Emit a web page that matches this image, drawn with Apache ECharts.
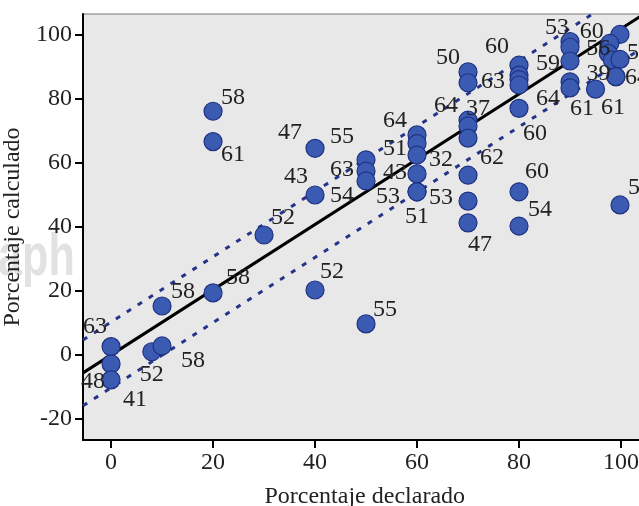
<!DOCTYPE html>
<html><head><meta charset="utf-8">
<script src="https://cdn.jsdelivr.net/npm/echarts@6/dist/echarts.min.js"></script>
<style>html,body{margin:0;padding:0;background:#fff}#c{width:639px;height:506px}</style>
</head><body><div id="c"></div>
<script>
// ---- data ----
const xVals = [0, 0, 0, 8, 10, 10, 20, 20, 20, 30,
  40, 40, 40, 50, 50, 50, 50,
  60, 60, 60, 60, 60, 60,
  70, 70, 70, 70, 70, 70, 70, 70,
  80, 80, 80, 80, 80, 80, 80,
  90, 90, 90, 90, 90, 95,
  99.8, 97.8, 97.5, 98.3, 99.8, 99, 99, 99.8];
const yVals = [2.6, -2.8, -7.8, 1.0, 2.8, 15.3, 19.4, 76.2, 66.7, 37.5,
  64.6, 50, 20.3, 9.7, 61, 57.5, 54.4,
  68.8, 66.1, 62.5, 56.6, 51.0, 51.0,
  88.5, 85.1, 73.4, 71.6, 67.8, 56.2, 48.1, 41.3,
  90.6, 87.5, 86.1, 84.4, 77.1, 51.0, 40.3,
  98.0, 96.2, 91.9, 85.4, 83.5, 83.1,
  100.2, 97.4, 94.3, 92.2, 92.4, 87, 87, 46.9];
const pointLabels = ['63', '48', '41', '52', '58', '58', '58', '58', '61', '52',
  '47', '43', '52', '55', '55', '63', '54',
  '64', '51', '32', '43', '53', '51',
  '50', '63', '64', '37', '', '62', '53', '47',
  '60', '', '', '', '60', '60', '54',
  '53', '', '59', '64', '61', '39',
  '', '60', '56', '', '59', '64', '61', '51'];
const xTicks = [0, 20, 40, 60, 80, 100];
const yTicks = [-20, 0, 20, 40, 60, 80, 100];
const fitIntercept = 0.0, fitSlope = 1.02, bandHalf = 10.3;

// ---- layout (label placement offsets in px) ----
const labelOffsets = [[-16,-20],[-18,18],[24,20],[0,23],[31,15],[21,-14],[25,-15],[20,-14],[20,13],[19,-17],
  [-25,-16],[-19,-18],[17,-18],[19,-14],[-24,-23],[-24,-1],[-24,15],
  [-22,-14],[-22,5],[24,5],[-22,-1],[-29,5],[0,25],
  [-20,-14],[25,-1],[-22,-14],[10,-17],[0,0],[24,-17],[-27,-3],[12,22],
  [-22,-18],[0,0],[0,0],[0,0],[16,25],[18,-20],[21,-16],
  [-13,-14],[0,0],[-22,3],[-22,17],[12,21],[3,-15],
  [0,0],[-18,-12],[-10,-5],[0,0],[19,-7],[21,1],[-3,31],[20,-17]];

const XMIN = -5.5, XMAX = 105, YMIN = -26.6, YMAX = 106.6;
const serif = "'Liberation Serif','Times New Roman',serif";
const fit = (x, d) => fitIntercept + d + fitSlope * x;

const chart = echarts.init(document.getElementById('c'));
const pts = xVals.map((x, i) => ({
  value: [x, yVals[i]],
  label: { show: pointLabels[i] !== '', formatter: pointLabels[i], offset: labelOffsets[i] }
}));
chart.setOption({
  animation: false,
  graphic: [{
    type: 'text', left: -2, top: 228, z: -10, scaleX: 0.72, silent: true,
    style: { text: 'aph', fontSize: 60, fontWeight: 'bold', fontFamily: "'Liberation Sans',Arial,sans-serif", fill: '#e2e2e2' }
  }],
  grid: { left: 83, right: -7.5, top: 14, bottom: 66, outerBoundsMode: 'none', containLabel: false,
    show: true, backgroundColor: '#e8e8e8', borderColor: '#777', borderWidth: 1 },
  xAxis: {
    type: 'value', min: XMIN, max: XMAX,
    name: 'Porcentaje declarado', nameLocation: 'middle', nameGap: 45,
    nameTextStyle: { fontFamily: serif, fontSize: 24, color: '#222' },
    axisLine: { show: true, onZero: false, lineStyle: { color: '#000', width: 2 } },
    axisTick: { show: true, length: 8, lineStyle: { color: '#000', width: 2 }, customValues: xTicks },
    axisLabel: { fontFamily: serif, fontSize: 24, color: '#222', margin: 11, customValues: xTicks },
    splitLine: { show: false }
  },
  yAxis: {
    type: 'value', min: YMIN, max: YMAX,
    name: 'Porcentaje calculado', nameLocation: 'middle', nameGap: 44,
    nameTextStyle: { fontFamily: serif, fontSize: 24, color: '#222' },
    axisLine: { show: true, onZero: false, lineStyle: { color: '#000', width: 2 } },
    axisTick: { show: true, length: 8, lineStyle: { color: '#000', width: 2 }, customValues: yTicks },
    axisLabel: { fontFamily: serif, fontSize: 24, color: '#222', margin: 11, customValues: yTicks },
    splitLine: { show: false }
  },
  series: [
    { type: 'line', data: [[XMIN, fit(XMIN, 0)], [XMAX, fit(XMAX, 0)]], symbol: 'none', clip: true, z: 2,
      lineStyle: { color: '#000', width: 3 } },
    { type: 'line', data: [[XMIN, fit(XMIN, bandHalf)], [XMAX, fit(XMAX, bandHalf)]], symbol: 'none', clip: true, z: 2,
      lineStyle: { color: '#25348a', width: 3, type: [5, 8] } },
    { type: 'line', data: [[XMIN, fit(XMIN, -bandHalf)], [XMAX, fit(XMAX, -bandHalf)]], symbol: 'none', clip: true, z: 2,
      lineStyle: { color: '#25348a', width: 3, type: [5, 8] } },
    { type: 'scatter', data: pts, symbolSize: 18, z: 3,
      itemStyle: { color: '#3b5bb2', borderColor: '#1f3282', borderWidth: 1.2, opacity: 1 },
      label: { position: 'inside', fontFamily: serif, fontSize: 24, color: '#222' } }
  ]
});
</script></body></html>
